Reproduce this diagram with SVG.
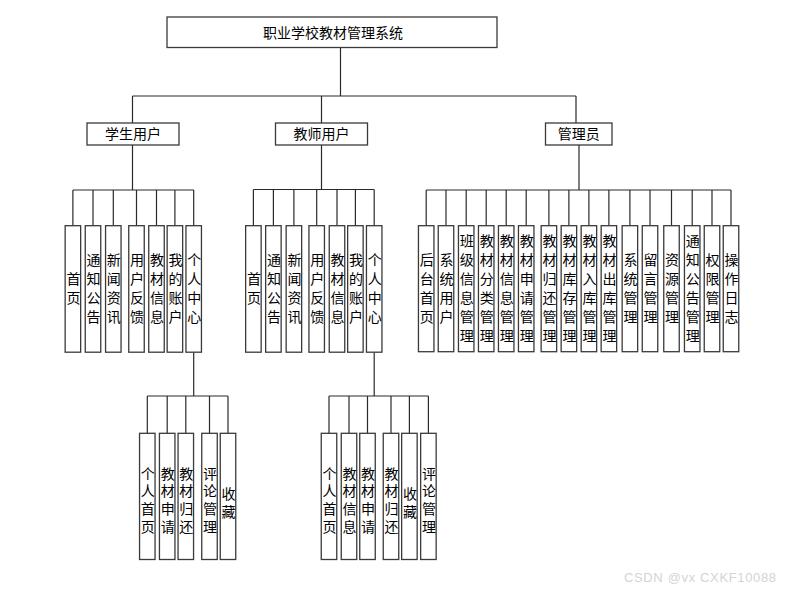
<svg xmlns="http://www.w3.org/2000/svg" width="785" height="590" viewBox="0 0 785 590">
<style>
rect{fill:#fff;stroke:#3a3a3a;stroke-width:1.3}
text{font-family:"Liberation Sans","Noto Sans CJK SC",sans-serif;font-size:14px;fill:#000;text-anchor:middle;dominant-baseline:central}
.c line,.c path{stroke:#2a2a2a;stroke-width:1.2;fill:none}
.wm{font-size:13px;fill:#d4d4d4;text-anchor:start;dominant-baseline:auto}
</style>
<rect width="785" height="590" style="fill:#fff;stroke:none"/>
<g class="c" id="connectors">
<path d="M340.5 47.5V96M132.5 96H576M132.5 96V123M321.5 96V123M576 96V123"/>
<path d="M132.5 145V190M72.9 190H193.7M72.9 190V225.7M93 190V225.7M113.3 190V225.7M136.5 190V225.7M156.5 190V225.7M174.9 190V225.7M193.7 190V225.7"/>
<path d="M321.5 145V189.5M253.4 189.5H374.2M253.4 189.5V225.7M273.4 189.5V225.7M293.9 189.5V225.7M316.7 189.5V225.7M337 189.5V225.7M355.4 189.5V225.7M374.2 189.5V225.7"/>
<path d="M579 145V190M426.2 190H731M426.2 190V225.7M446 190V225.7M466.2 190V225.7M486.2 190V225.7M506.2 190V225.7M526.2 190V225.7M548.9 190V225.7M568.9 190V225.7M588.9 190V225.7M608.9 190V225.7M629.9 190V225.7M650 190V225.7M671.5 190V225.7M692.2 190V225.7M712 190V225.7M731 190V225.7"/>
<path d="M193.7 352.2V396M147.3 396H228M147.3 396V433.3M167.2 396V433.3M185.8 396V433.3M209.5 396V433.3M228 396V433.3"/>
<path d="M374.2 352.2V396M329 396H428.4M329 396V433.3M349 396V433.3M367.5 396V433.3M391 396V433.3M409.4 396V433.3M428.4 396V433.3"/>
</g>
<g id="root"><rect x="167" y="17" width="330" height="30.5"/><text x="333" y="33">职业学校教材管理系统</text></g>
<g id="student"><rect x="87" y="123" width="92" height="22"/><text x="133" y="134">学生用户</text></g>
<g id="teacher"><rect x="275.5" y="123" width="92" height="22"/><text x="321.5" y="134">教师用户</text></g>
<g id="admin"><rect x="545.5" y="123" width="66.5" height="22"/><text x="578.7" y="134">管理员</text></g>

<g id="s1"><rect x="65.15" y="225.7" width="15.5" height="126.5"/><text><tspan x="73.4" y="278.5">首</tspan><tspan x="73.4" y="297.5">页</tspan></text></g>
<g id="s2"><rect x="85.25" y="225.7" width="15.5" height="126.5"/><text><tspan x="93.5" y="259.5">通</tspan><tspan x="93.5" y="278.5">知</tspan><tspan x="93.5" y="297.5">公</tspan><tspan x="93.5" y="316.5">告</tspan></text></g>
<g id="s3"><rect x="105.55" y="225.7" width="15.5" height="126.5"/><text><tspan x="113.8" y="259.5">新</tspan><tspan x="113.8" y="278.5">闻</tspan><tspan x="113.8" y="297.5">资</tspan><tspan x="113.8" y="316.5">讯</tspan></text></g>
<g id="s4"><rect x="128.75" y="225.7" width="15.5" height="126.5"/><text><tspan x="137" y="259.5">用</tspan><tspan x="137" y="278.5">户</tspan><tspan x="137" y="297.5">反</tspan><tspan x="137" y="316.5">馈</tspan></text></g>
<g id="s5"><rect x="148.75" y="225.7" width="15.5" height="126.5"/><text><tspan x="157" y="259.5">教</tspan><tspan x="157" y="278.5">材</tspan><tspan x="157" y="297.5">信</tspan><tspan x="157" y="316.5">息</tspan></text></g>
<g id="s6"><rect x="167.15" y="225.7" width="15.5" height="126.5"/><text><tspan x="175.4" y="259.5">我</tspan><tspan x="175.4" y="278.5">的</tspan><tspan x="175.4" y="297.5">账</tspan><tspan x="175.4" y="316.5">户</tspan></text></g>
<g id="s7"><rect x="185.95" y="225.7" width="15.5" height="126.5"/><text><tspan x="194.2" y="259.5">个</tspan><tspan x="194.2" y="278.5">人</tspan><tspan x="194.2" y="297.5">中</tspan><tspan x="194.2" y="316.5">心</tspan></text></g>

<g id="t1"><rect x="245.65" y="225.7" width="15.5" height="126.5"/><text><tspan x="253.9" y="278.5">首</tspan><tspan x="253.9" y="297.5">页</tspan></text></g>
<g id="t2"><rect x="265.65" y="225.7" width="15.5" height="126.5"/><text><tspan x="273.9" y="259.5">通</tspan><tspan x="273.9" y="278.5">知</tspan><tspan x="273.9" y="297.5">公</tspan><tspan x="273.9" y="316.5">告</tspan></text></g>
<g id="t3"><rect x="286.15" y="225.7" width="15.5" height="126.5"/><text><tspan x="294.4" y="259.5">新</tspan><tspan x="294.4" y="278.5">闻</tspan><tspan x="294.4" y="297.5">资</tspan><tspan x="294.4" y="316.5">讯</tspan></text></g>
<g id="t4"><rect x="308.95" y="225.7" width="15.5" height="126.5"/><text><tspan x="317.2" y="259.5">用</tspan><tspan x="317.2" y="278.5">户</tspan><tspan x="317.2" y="297.5">反</tspan><tspan x="317.2" y="316.5">馈</tspan></text></g>
<g id="t5"><rect x="329.25" y="225.7" width="15.5" height="126.5"/><text><tspan x="337.5" y="259.5">教</tspan><tspan x="337.5" y="278.5">材</tspan><tspan x="337.5" y="297.5">信</tspan><tspan x="337.5" y="316.5">息</tspan></text></g>
<g id="t6"><rect x="347.65" y="225.7" width="15.5" height="126.5"/><text><tspan x="355.9" y="259.5">我</tspan><tspan x="355.9" y="278.5">的</tspan><tspan x="355.9" y="297.5">账</tspan><tspan x="355.9" y="316.5">户</tspan></text></g>
<g id="t7"><rect x="366.45" y="225.7" width="15.5" height="126.5"/><text><tspan x="374.7" y="259.5">个</tspan><tspan x="374.7" y="278.5">人</tspan><tspan x="374.7" y="297.5">中</tspan><tspan x="374.7" y="316.5">心</tspan></text></g>

<g id="a1"><rect x="418.45" y="225.7" width="15.5" height="126"/><text><tspan x="426.7" y="259.5">后</tspan><tspan x="426.7" y="278.5">台</tspan><tspan x="426.7" y="297.5">首</tspan><tspan x="426.7" y="316.5">页</tspan></text></g>
<g id="a2"><rect x="438.25" y="225.7" width="15.5" height="126"/><text><tspan x="446.5" y="259.5">系</tspan><tspan x="446.5" y="278.5">统</tspan><tspan x="446.5" y="297.5">用</tspan><tspan x="446.5" y="316.5">户</tspan></text></g>
<g id="a3"><rect x="458.45" y="225.7" width="15.5" height="126"/><text><tspan x="466.7" y="240.5">班</tspan><tspan x="466.7" y="259.5">级</tspan><tspan x="466.7" y="278.5">信</tspan><tspan x="466.7" y="297.5">息</tspan><tspan x="466.7" y="316.5">管</tspan><tspan x="466.7" y="335.5">理</tspan></text></g>
<g id="a4"><rect x="478.45" y="225.7" width="15.5" height="126"/><text><tspan x="486.7" y="240.5">教</tspan><tspan x="486.7" y="259.5">材</tspan><tspan x="486.7" y="278.5">分</tspan><tspan x="486.7" y="297.5">类</tspan><tspan x="486.7" y="316.5">管</tspan><tspan x="486.7" y="335.5">理</tspan></text></g>
<g id="a5"><rect x="498.45" y="225.7" width="15.5" height="126"/><text><tspan x="506.7" y="240.5">教</tspan><tspan x="506.7" y="259.5">材</tspan><tspan x="506.7" y="278.5">信</tspan><tspan x="506.7" y="297.5">息</tspan><tspan x="506.7" y="316.5">管</tspan><tspan x="506.7" y="335.5">理</tspan></text></g>
<g id="a6"><rect x="518.45" y="225.7" width="15.5" height="126"/><text><tspan x="526.7" y="240.5">教</tspan><tspan x="526.7" y="259.5">材</tspan><tspan x="526.7" y="278.5">申</tspan><tspan x="526.7" y="297.5">请</tspan><tspan x="526.7" y="316.5">管</tspan><tspan x="526.7" y="335.5">理</tspan></text></g>
<g id="a7"><rect x="541.15" y="225.7" width="15.5" height="126"/><text><tspan x="549.4" y="240.5">教</tspan><tspan x="549.4" y="259.5">材</tspan><tspan x="549.4" y="278.5">归</tspan><tspan x="549.4" y="297.5">还</tspan><tspan x="549.4" y="316.5">管</tspan><tspan x="549.4" y="335.5">理</tspan></text></g>
<g id="a8"><rect x="561.15" y="225.7" width="15.5" height="126"/><text><tspan x="569.4" y="240.5">教</tspan><tspan x="569.4" y="259.5">材</tspan><tspan x="569.4" y="278.5">库</tspan><tspan x="569.4" y="297.5">存</tspan><tspan x="569.4" y="316.5">管</tspan><tspan x="569.4" y="335.5">理</tspan></text></g>
<g id="a9"><rect x="581.15" y="225.7" width="15.5" height="126"/><text><tspan x="589.4" y="240.5">教</tspan><tspan x="589.4" y="259.5">材</tspan><tspan x="589.4" y="278.5">入</tspan><tspan x="589.4" y="297.5">库</tspan><tspan x="589.4" y="316.5">管</tspan><tspan x="589.4" y="335.5">理</tspan></text></g>
<g id="a10"><rect x="601.15" y="225.7" width="15.5" height="126"/><text><tspan x="609.4" y="240.5">教</tspan><tspan x="609.4" y="259.5">材</tspan><tspan x="609.4" y="278.5">出</tspan><tspan x="609.4" y="297.5">库</tspan><tspan x="609.4" y="316.5">管</tspan><tspan x="609.4" y="335.5">理</tspan></text></g>
<g id="a11"><rect x="622.15" y="225.7" width="15.5" height="126"/><text><tspan x="630.4" y="259.5">系</tspan><tspan x="630.4" y="278.5">统</tspan><tspan x="630.4" y="297.5">管</tspan><tspan x="630.4" y="316.5">理</tspan></text></g>
<g id="a12"><rect x="642.25" y="225.7" width="15.5" height="126"/><text><tspan x="650.5" y="259.5">留</tspan><tspan x="650.5" y="278.5">言</tspan><tspan x="650.5" y="297.5">管</tspan><tspan x="650.5" y="316.5">理</tspan></text></g>
<g id="a13"><rect x="663.75" y="225.7" width="15.5" height="126"/><text><tspan x="672" y="259.5">资</tspan><tspan x="672" y="278.5">源</tspan><tspan x="672" y="297.5">管</tspan><tspan x="672" y="316.5">理</tspan></text></g>
<g id="a14"><rect x="684.45" y="225.7" width="15.5" height="126"/><text><tspan x="692.7" y="240.5">通</tspan><tspan x="692.7" y="259.5">知</tspan><tspan x="692.7" y="278.5">公</tspan><tspan x="692.7" y="297.5">告</tspan><tspan x="692.7" y="316.5">管</tspan><tspan x="692.7" y="335.5">理</tspan></text></g>
<g id="a15"><rect x="704.25" y="225.7" width="15.5" height="126"/><text><tspan x="712.5" y="259.5">权</tspan><tspan x="712.5" y="278.5">限</tspan><tspan x="712.5" y="297.5">管</tspan><tspan x="712.5" y="316.5">理</tspan></text></g>
<g id="a16"><rect x="723.25" y="225.7" width="15.5" height="126"/><text><tspan x="731.5" y="259.5">操</tspan><tspan x="731.5" y="278.5">作</tspan><tspan x="731.5" y="297.5">日</tspan><tspan x="731.5" y="316.5">志</tspan></text></g>

<g id="sp1"><rect x="139.55" y="433.3" width="15.5" height="126.2"/><text><tspan x="147.8" y="473.5">个</tspan><tspan x="147.8" y="491.2">人</tspan><tspan x="147.8" y="508.9">首</tspan><tspan x="147.8" y="526.6">页</tspan></text></g>
<g id="sp2"><rect x="159.45" y="433.3" width="15.5" height="126.2"/><text><tspan x="167.7" y="473.5">教</tspan><tspan x="167.7" y="491.2">材</tspan><tspan x="167.7" y="508.9">申</tspan><tspan x="167.7" y="526.6">请</tspan></text></g>
<g id="sp3"><rect x="178.05" y="433.3" width="15.5" height="126.2"/><text><tspan x="186.3" y="473.5">教</tspan><tspan x="186.3" y="491.2">材</tspan><tspan x="186.3" y="508.9">归</tspan><tspan x="186.3" y="526.6">还</tspan></text></g>
<g id="sp4"><rect x="201.75" y="433.3" width="15.5" height="126.2"/><text><tspan x="210" y="473.5">评</tspan><tspan x="210" y="491.2">论</tspan><tspan x="210" y="508.9">管</tspan><tspan x="210" y="526.6">理</tspan></text></g>
<g id="sp5"><rect x="220.25" y="433.3" width="15.5" height="126.2"/><text><tspan x="228.5" y="494">收</tspan><tspan x="228.5" y="511.7">藏</tspan></text></g>

<g id="tp1"><rect x="321.25" y="433.3" width="15.5" height="126.2"/><text><tspan x="329.5" y="473.5">个</tspan><tspan x="329.5" y="491.2">人</tspan><tspan x="329.5" y="508.9">首</tspan><tspan x="329.5" y="526.6">页</tspan></text></g>
<g id="tp2"><rect x="341.25" y="433.3" width="15.5" height="126.2"/><text><tspan x="349.5" y="473.5">教</tspan><tspan x="349.5" y="491.2">材</tspan><tspan x="349.5" y="508.9">信</tspan><tspan x="349.5" y="526.6">息</tspan></text></g>
<g id="tp3"><rect x="359.75" y="433.3" width="15.5" height="126.2"/><text><tspan x="368" y="473.5">教</tspan><tspan x="368" y="491.2">材</tspan><tspan x="368" y="508.9">申</tspan><tspan x="368" y="526.6">请</tspan></text></g>
<g id="tp4"><rect x="383.25" y="433.3" width="15.5" height="126.2"/><text><tspan x="391.5" y="473.5">教</tspan><tspan x="391.5" y="491.2">材</tspan><tspan x="391.5" y="508.9">归</tspan><tspan x="391.5" y="526.6">还</tspan></text></g>
<g id="tp5"><rect x="401.65" y="433.3" width="15.5" height="126.2"/><text><tspan x="409.9" y="494">收</tspan><tspan x="409.9" y="511.7">藏</tspan></text></g>
<g id="tp6"><rect x="420.65" y="433.3" width="15.5" height="126.2"/><text><tspan x="428.9" y="473.5">评</tspan><tspan x="428.9" y="491.2">论</tspan><tspan x="428.9" y="508.9">管</tspan><tspan x="428.9" y="526.6">理</tspan></text></g>

<text class="wm" x="624" y="582" textLength="152" lengthAdjust="spacing">CSDN @vx   CXKF10088</text>
</svg>
